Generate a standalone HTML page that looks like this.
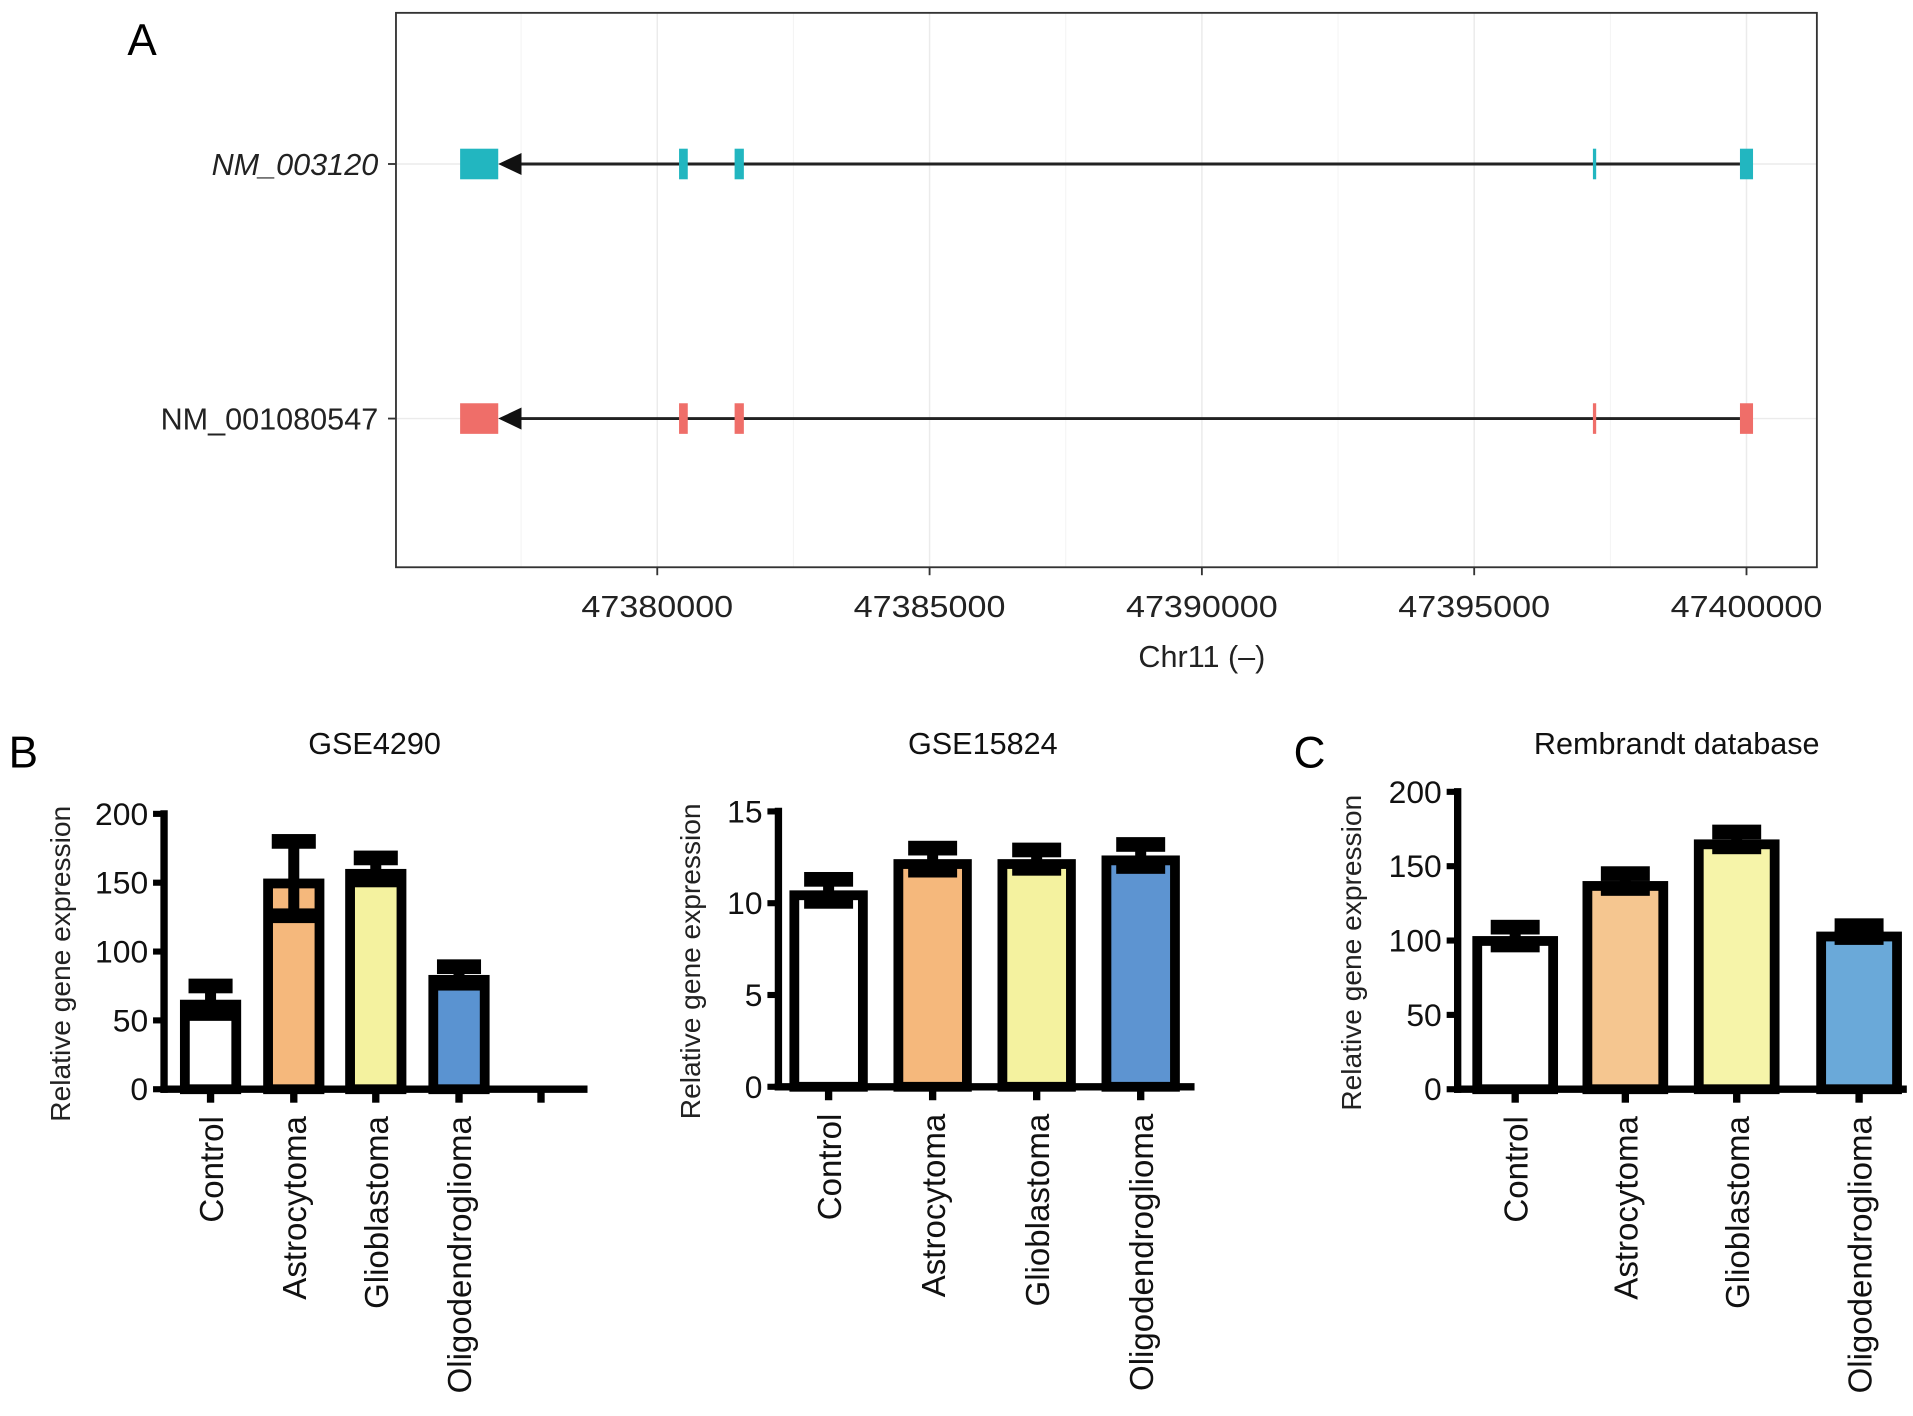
<!DOCTYPE html>
<html><head><meta charset="utf-8"><style>
html,body{margin:0;padding:0;background:#fff}
svg{display:block;font-family:"Liberation Sans",Arial,sans-serif}
</style></head><body>
<svg id="fig" width="1913" height="1416" viewBox="0 0 1563 1157" xmlns="http://www.w3.org/2000/svg">
</svg>
<script>
// ---- Panel A data ----
const aTicks = [47380000, 47385000, 47390000, 47395000, 47400000];
const transcripts = ["NM_003120", "NM_001080547"];
const txColors = ["#22b6c0", "#ef6e69"];
const exonStarts = [47376380, 47380400, 47381420, 47397180, 47399880];
const exonEnds   = [47377080, 47380560, 47381590, 47397240, 47400120];
// ---- Panel B/C data ----
const categories = ["Control", "Astrocytoma", "Glioblastoma", "Oligodendroglioma"];
const gse4290Means = [65, 153, 160, 83];
const gse4290Errs = [10, 27, 8, 6];
const gse4290Ticks = [0, 50, 100, 150, 200];
const gse15824Means = [10.7, 12.4, 12.4, 12.6];
const gse15824Errs = [0.6, 0.6, 0.5, 0.6];
const gse15824Ticks = [0, 5, 10, 15];
const rembrandtMeans = [103, 140, 168, 106];
const rembrandtErrs = [6, 5, 5, 4];
const rembrandtTicks = [0, 50, 100, 150, 200];

const NS = "http://www.w3.org/2000/svg";
const svg = document.getElementById("fig");
function mk(tag, attrs, parent, text) {
  const e = document.createElementNS(NS, tag);
  for (const k in attrs) e.setAttribute(k, attrs[k]);
  if (text !== undefined) e.textContent = text;
  (parent || svg).appendChild(e);
  return e;
}

// ===== Panel A =====
const gA = mk("g", {});


const ax = v => 537 + (v - 47380000) / 5000 * 222.5;
const rowY = [134, 342];
let t = mk("text", {x: 104, y: 45, "font-size": 36}, gA, "A");


for (let i = 0; i < aTicks.length; i++) {
  const x = ax(aTicks[i]);
  mk("line", {x1: x, x2: x, y1: 11, y2: 463, stroke: "#ebebeb", "stroke-width": 1.2}, gA);
  const xm = ax(aTicks[i] - 2500);
  mk("line", {x1: xm, x2: xm, y1: 11, y2: 463, stroke: "#f3f3f3", "stroke-width": 0.8}, gA);
}
rowY.forEach(y => mk("line", {x1: 324, x2: 1484, y1: y, y2: y, stroke: "#ebebeb", "stroke-width": 1.2}, gA));
let frame = mk("rect", {x: 323.5, y: 10.5, width: 1161, height: 453, fill: "none", stroke: "#333", "stroke-width": 1.5}, gA);


aTicks.forEach(v => {
  const x = ax(v);
  mk("line", {x1: x, x2: x, y1: 464, y2: 470, stroke: "#333", "stroke-width": 1.5}, gA);
  const l = mk("text", {x: x, y: 504, "font-size": 25, "text-anchor": "middle", fill: "#222", textLength: 124, lengthAdjust: "spacingAndGlyphs"}, gA, String(v));
  
  
});
t = mk("text", {x: 982, y: 545, "font-size": 25, "text-anchor": "middle", fill: "#222"}, gA, "Chr11 (\u2013)");


transcripts.forEach((name, i) => {
  const y = rowY[i];
  mk("line", {x1: 317, x2: 323, y1: y, y2: y, stroke: "#333", "stroke-width": 1.5}, gA);
  const lab = mk("text", {x: 309, y: y + 9, "font-size": 25, "text-anchor": "end", fill: "#222", "font-style": i === 0 ? "italic" : "normal"}, gA, name);
  
  
  const ln = mk("line", {x1: ax(exonEnds[0]) + 10, x2: ax(exonStarts[4]), y1: y, y2: y, stroke: "#222", "stroke-width": 2.4}, gA);
  
  
  const x0 = ax(exonEnds[0]);
  const ar = mk("polygon", {points: `${x0},${y} ${x0 + 19},${y - 9} ${x0 + 19},${y + 9}`, fill: "#111"}, gA);
  
  
  for (let k = 0; k < exonStarts.length; k++) {
    const x1 = ax(exonStarts[k]), x2 = ax(exonEnds[k]);
    const ex = mk("rect", {x: x1, y: y - 12.5, width: Math.max(x2 - x1, 2), height: 25, fill: txColors[i]}, gA);
    
    
  }
});

// ===== Bar charts =====
const fills4290 = ["#ffffff", "#f5b87c", "#f4f29f", "#5a93d1"];
const fills15824 = ["#ffffff", "#f5b87c", "#f4f29f", "#5d94d1"];
const fillsRem = ["#ffffff", "#f5c690", "#f6f4a9", "#6aa9d9"];
function barChart(cfg) {
  const g = mk("g", {});
  
  
  const ys = v => cfg.y0 - (v - 0) / cfg.max * (cfg.y0 - cfg.yTop);
  const tt = mk("text", {x: cfg.titleX, y: 616, "font-size": 25, "text-anchor": "middle", fill: "#111"}, g, cfg.title);
  
  
  const cy = (cfg.y0 + cfg.yTop) / 2 + 10;
  const yt = mk("text", {x: 0, y: 0, "font-size": 23, "text-anchor": "middle", fill: "#222", transform: `translate(${cfg.yTitleX},${cy}) rotate(-90)`}, g, "Relative gene expression");
  
  
  cfg.means.forEach((m, i) => {
    const cx = cfg.centers[i], w = cfg.barW;
    const top = ys(m);
    const b = mk("rect", {x: cx - w / 2 + 4, y: top + 4, width: w - 8, height: cfg.y0 - top - 4, fill: cfg.fills[i], stroke: "#000", "stroke-width": 8}, g);
    
    
    const e = cfg.errs[i];
    const eg = mk("g", {}, g);
    
    
    mk("line", {x1: cx, x2: cx, y1: ys(m + e), y2: ys(m - e), stroke: "#000", "stroke-width": 9}, eg);
    mk("rect", {x: cx - cfg.capW / 2, y: ys(m + e) - 6, width: cfg.capW, height: 12, fill: "#000"}, eg);
    mk("rect", {x: cx - cfg.capW / 2, y: ys(m - e) - 6, width: cfg.capW, height: 12, fill: "#000"}, eg);
  });
  const ya = mk("line", {x1: cfg.axX, x2: cfg.axX, y1: cfg.yTop - 3, y2: cfg.y0 + 3, stroke: "#000", "stroke-width": 6}, g);
  
  
  const xa = mk("line", {x1: cfg.axX - 3, x2: cfg.axEnd, y1: cfg.y0, y2: cfg.y0, stroke: "#000", "stroke-width": 6}, g);
  
  
  cfg.ticks.forEach(v => {
    const y = ys(v);
    mk("line", {x1: cfg.axX - 9, x2: cfg.axX, y1: y, y2: y, stroke: "#000", "stroke-width": 5}, g);
    const l = mk("text", {x: cfg.axX - 13, y: y + 9, "font-size": 26, "text-anchor": "end", fill: "#111"}, g, String(v));
    
    
  });
  const tickXs = cfg.centers.concat(cfg.extraTick ? [cfg.extraTick] : []);
  tickXs.forEach(x => mk("line", {x1: x, x2: x, y1: cfg.y0, y2: cfg.y0 + 11, stroke: "#000", "stroke-width": 6}, g));
  categories.forEach((c, i) => {
    const l = mk("text", {x: 0, y: 0, "font-size": 27, "text-anchor": "end", fill: "#111", transform: `translate(${cfg.centers[i] + 10},${cfg.y0 + 22}) rotate(-90)`}, g, c);
    
    
  });
}
let lb = mk("text", {x: 7, y: 627, "font-size": 36}, svg, "B");


lb = mk("text", {x: 1057, y: 627, "font-size": 36}, svg, "C");



barChart({name: "gse4290-chart", title: "GSE4290", titleX: 306, yTitleX: 57, axX: 134, axEnd: 480, y0: 890, yTop: 665, max: 200,
  ticks: gse4290Ticks, means: gse4290Means, errs: gse4290Errs, centers: [172, 240, 307, 375], barW: 50, capW: 36, fills: fills4290, extraTick: 442});
barChart({name: "gse15824-chart", title: "GSE15824", titleX: 803, yTitleX: 572, axX: 636, axEnd: 976, y0: 888, yTop: 663, max: 15,
  ticks: gse15824Ticks, means: gse15824Means, errs: gse15824Errs, centers: [677, 762, 847, 932], barW: 64, capW: 40, fills: fills15824});
barChart({name: "rembrandt-chart", title: "Rembrandt database", titleX: 1370, yTitleX: 1112, axX: 1191, axEnd: 1558, y0: 890, yTop: 647, max: 200,
  ticks: rembrandtTicks, means: rembrandtMeans, errs: rembrandtErrs, centers: [1238, 1328, 1419, 1519], barW: 70, capW: 40, fills: fillsRem});
</script>
</body></html>
